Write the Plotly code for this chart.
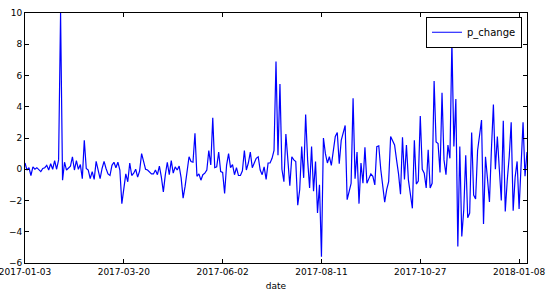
import plotly.graph_objects as go

# p_change series (one value per trading day, 2017-01-03 .. 2018-01-12)
p_change = [
    0.4, -0.05, 0.1, -0.4, 0.15, 0.0, 0.1, 0.0, -0.15, 0.05,
    0.1, 0.25, -0.05, 0.35, 0.0, 0.55, 0.0, 0.6, 10.0, -0.7,
    0.45, -0.05, 0.1, 0.2, 0.8, -0.05, 0.55, 0.0, 0.3, -0.6,
    1.85, 0.05, -0.05, -0.6, -0.15, -0.65, 0.5, -0.05, -0.6, 0.05,
    0.5, 0.05, -0.3, -0.4, 0.25, 0.45, 0.1, 0.45, -0.05, -2.2,
    -1.1, -0.3, -0.8, 0.4, -0.4, -0.25, 0.0, -0.5, -0.1, 1.0,
    0.5, 0.0, -0.05, -0.15, -0.3, -0.3, -0.05, -0.35, 0.2, -0.5,
    -1.45, -0.35, 0.45, -0.35, 0.55, -0.25, 0.15, -0.05, 0.2, -0.55,
    -1.85, -1.1, -0.3, 0.8, 0.5, 0.45, 2.3, -0.45, -0.3, -0.7,
    -0.35, -0.25, -0.05, 1.2, 0.27, 3.3, 0.1, 0.15, 1.1, -0.15,
    -0.2, -1.55, 0.27, 1.0, 0.1, 0.3, -0.35, 0.1, -0.4, -0.4,
    -0.1, 1.2, -0.05, 0.4, 1.1, 0.1, 0.4, 0.7, 0.8, -0.05,
    -0.35, 0.15, -0.65, 0.4, 0.4, 0.7, 1.2, 6.9, 0.9, 5.45,
    0.0, -0.8, 2.25, 0.4, -1.05, 0.8, 0.6, 0.5, -2.3, -1.3,
    1.45, -0.55, 3.5, 0.6, -1.2, 1.45, -1.4, 0.5, -2.8, -1.0,
    -5.6, 2.0, 1.0, 0.4, 0.8, 0.25, 1.3, 2.1, 2.35, 0.35,
    1.85, 2.4, 2.8, -1.95, -1.4, -0.9, 4.55, -0.6, 1.1, -2.2,
    0.4, -0.9, 1.4, -0.9, -0.6, -0.3, -0.45, -1.0, 1.45, 1.5,
    0.0, -1.1, -2.1, -1.3, -0.8, 2.1, 1.85, 1.55, 0.6, -0.3,
    -1.6, 2.05, -0.65, 1.55, -0.7, -1.5, -2.5, 1.85, -0.95, -0.75,
    3.4, 0.0, -0.25, -1.2, 1.25, -1.2, -0.9, 5.65, 1.75, 1.65,
    -0.2, 4.9, 0.6, -0.35, 1.55, 0.7, 8.15, 1.45, 4.5, -4.95,
    1.45, -4.3, -2.6, 0.9, -3.1, -2.8, 2.35, -1.65, -1.9, 1.2,
    2.1, 3.15, -3.5, 0.8, -0.6, -2.1, 1.3, 4.15, 0.0, 2.1,
    0.0, -2.0, 3.1, -2.7, -0.7, 0.8, 3.0, -2.65, -0.5, 0.5,
    -2.55, 0.5, 3.0, -0.45, 1.1,
]

# date labels shown on the x axis (every 50th trading day)
tick_labels = ["2017-01-03", "2017-03-20", "2017-06-02",
               "2017-08-11", "2017-10-27", "2018-01-08"]
tick_step = 50

y_ticks = [-6, -4, -2, 0, 2, 4, 6, 8, 10]
y_tick_text = [str(v).replace("-", "\u2212") for v in y_ticks]

x_index = list(range(len(p_change)))
tick_positions = list(range(0, len(p_change), tick_step))[:len(tick_labels)]

FONT = "DejaVu Sans"

fig = go.Figure()
fig.add_trace(go.Scatter(
    x=x_index, y=p_change, mode="lines", name="p_change",
    line=dict(color="#0000ff", width=1.2),
))

fig.update_layout(
    width=554, height=294,
    margin=dict(l=25, r=27, t=13, b=31),
    paper_bgcolor="white", plot_bgcolor="white",
    font=dict(family=FONT, size=9, color="black"),
    showlegend=True,
    legend=dict(
        x=0.99, y=0.985, xanchor="right", yanchor="top",
        bgcolor="white", bordercolor="black", borderwidth=1,
        font=dict(family=FONT, size=10, color="black"),
        itemwidth=30,
    ),
    xaxis=dict(
        range=[0, len(p_change) - 1], automargin=False,
        ticklabeloverflow="allow",
        tickmode="array", tickvals=tick_positions, ticktext=tick_labels,
        ticks="inside", ticklen=4, tickwidth=1, tickcolor="black",
        showline=True, linecolor="black", linewidth=1, mirror="ticks",
        showgrid=False, zeroline=False,
        tickfont=dict(family=FONT, size=9, color="black"),
        title=dict(text="date", font=dict(family=FONT, size=9, color="black"), standoff=6),
    ),
    yaxis=dict(
        range=[-6, 10], automargin=False,
        ticklabeloverflow="allow",
        tickmode="array", tickvals=y_ticks, ticktext=y_tick_text,
        ticks="inside", ticklen=4, tickwidth=1, tickcolor="black",
        showline=True, linecolor="black", linewidth=1, mirror="ticks",
        showgrid=False, zeroline=False,
        tickfont=dict(family=FONT, size=9, color="black"),
    ),
)

fig.write_html("out.html")
